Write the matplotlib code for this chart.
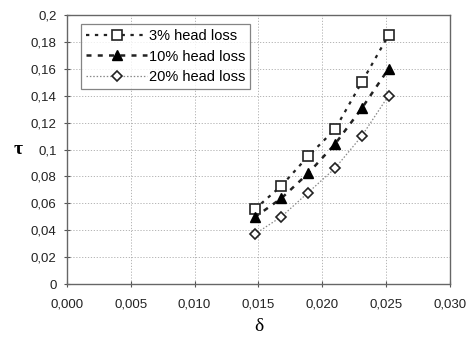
import matplotlib
matplotlib.use('Agg')
import matplotlib.pyplot as plt
from matplotlib.ticker import FuncFormatter

delta = [0.0147, 0.0168, 0.0189, 0.0210, 0.0231, 0.0252]
tau_3 = [0.0555, 0.073, 0.095, 0.115, 0.150, 0.185]
tau_10 = [0.0496, 0.0637, 0.0823, 0.104, 0.1306, 0.160]
tau_20 = [0.037, 0.050, 0.068, 0.086, 0.110, 0.140]
labels = ['3% head loss', '10% head loss', '20% head loss']

plt.rcParams['font.family'] = ['Liberation Sans', 'DejaVu Sans']

fig = plt.figure(figsize=(4.7, 3.44), dpi=100)
ax = fig.add_axes([0.1426, 0.1744, 0.8144, 0.7820])

ax.plot(delta, tau_3, color='#222222', lw=1.6, ls=(0, (1.5, 2.5)),
        marker='s', ms=6.5, mfc='white', mec='#222222', mew=1.2, label=labels[0])
ax.plot(delta, tau_10, color='#222222', lw=1.8, ls=(0, (2, 2.5)),
        marker='^', ms=7.5, mfc='black', mec='black', label=labels[1])
ax.plot(delta, tau_20, color='#888888', lw=0.9, ls=(0, (1.2, 1.5)),
        marker='D', ms=5, mfc='white', mec='#222222', mew=1.2, label=labels[2])

ax.set_xlim(0, 0.030)
ax.set_ylim(0, 0.2)
ax.set_xticks([0, 0.005, 0.010, 0.015, 0.020, 0.025, 0.030])
ax.set_yticks([i * 0.02 for i in range(11)])
ax.xaxis.set_major_formatter(FuncFormatter(lambda v, p: ('%.3f' % v).replace('.', ',')))


def yfmt(v, p):
    s = ('%.2f' % v).rstrip('0').rstrip('.')
    return s.replace('.', ',')


ax.yaxis.set_major_formatter(FuncFormatter(yfmt))
ax.tick_params(direction='inout', length=5, width=0.8, color='#555555',
               labelsize=9.5, labelcolor='#222222')
ax.tick_params(axis='x', pad=8)
ax.tick_params(axis='y', pad=5)
ax.grid(True, color='#aaaaaa', ls=(0, (1.5, 2)), lw=0.6)
for s in ax.spines.values():
    s.set_color('#666666')
    s.set_linewidth(1.0)

ax.set_xlabel('δ', family=['Liberation Serif', 'DejaVu Serif'], fontsize=14, labelpad=5)
ax.set_ylabel('τ', family=['Liberation Serif', 'DejaVu Serif'], fontsize=14,
              rotation=0, labelpad=9, va='center', fontweight='bold')

leg = ax.legend(loc='upper left', bbox_to_anchor=(0.036, 0.967), fontsize=10.5,
                frameon=True, fancybox=False, borderpad=0.35, labelspacing=0.45,
                handlelength=4.2, handletextpad=0.1, borderaxespad=0)
leg.get_frame().set_edgecolor('#666666')
leg.get_frame().set_linewidth(0.9)

fig.savefig('out.png', dpi=100)
